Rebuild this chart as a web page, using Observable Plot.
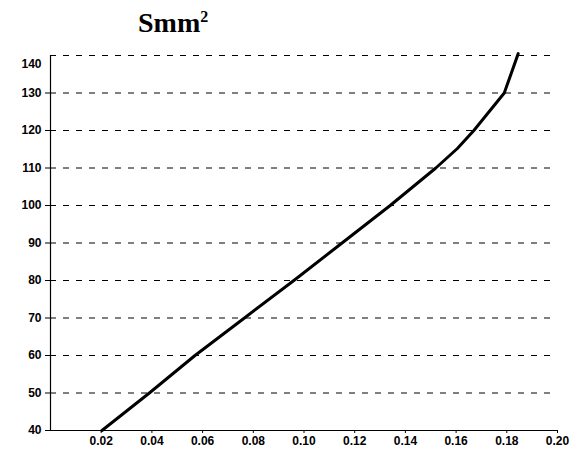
<!DOCTYPE html>
<html>
<head>
<meta charset="utf-8">
<script src="https://cdn.jsdelivr.net/npm/d3@7"></script>
<script src="https://cdn.jsdelivr.net/npm/@observablehq/plot@0.6"></script>
<style>
  html, body { margin: 0; padding: 0; background: #fff; }
  #title { height: 42px; position: relative; font-family: "Liberation Serif", serif; font-weight: bold; font-size: 28px; }
  #title span { position: absolute; left: 138px; top: 9px; line-height: 1; }
  #title sup { font-size: 16px; vertical-align: 0; position: relative; top: -10px; }
</style>
</head>
<body>
<div id="title"><span>Smm<sup>2</sup></span></div>
<div id="chart"></div>
<script>
// Line data
const xValues = [0.0203, 0.039, 0.057, 0.0765, 0.096, 0.115, 0.134, 0.152, 0.1605, 0.167, 0.179, 0.1845];
const yValues = [40, 50, 60, 70, 80, 90, 100, 110, 115.2, 120, 130, 140.5];
const xTicks = [0.02, 0.04, 0.06, 0.08, 0.10, 0.12, 0.14, 0.16, 0.18, 0.20];
const yTicks = [40, 50, 60, 70, 80, 90, 100, 110, 120, 130, 140];

const data = xValues.map((x, i) => ({x, y: yValues[i]}));
const yTicksMain = yTicks.filter(t => t < 140);
const yTicksTop = yTicks.filter(t => t >= 140);
const gridTicks = yTicks.filter(t => t > 40);

const chart = Plot.plot({
  width: 581,
  height: 409,
  marginTop: 13,
  marginBottom: 21,
  marginLeft: 50,
  marginRight: 24,
  style: {fontFamily: "'Liberation Sans', Arial, sans-serif", fontWeight: "bold", fontSize: "12px", color: "black", background: "white"},
  x: {type: "linear", domain: [0, 0.2]},
  y: {type: "linear", domain: [40, 140]},
  marks: [
    Plot.ruleY(gridTicks, {stroke: "black", strokeWidth: 1, strokeDasharray: "6,7"}),
    Plot.ruleY([40], {stroke: "black", strokeWidth: 1.2}),
    Plot.ruleX([0], {stroke: "black", strokeWidth: 1.2}),
    Plot.axisY({ticks: yTicksMain, tickSize: 5, tickPadding: 4, label: null, fontSize: 12}),
    Plot.axisY({ticks: yTicksTop, tickSize: 0, tickPadding: 9, dy: 9, label: null, fontSize: 12}),
    Plot.axisX({ticks: xTicks, tickSize: 3, tickPadding: 3, tickFormat: d3.format(".2f"), label: null, fontSize: 12}),
    Plot.line(data, {x: "x", y: "y", stroke: "black", strokeWidth: 3})
  ]
});
document.getElementById("chart").appendChild(chart);
</script>
</body>
</html>
